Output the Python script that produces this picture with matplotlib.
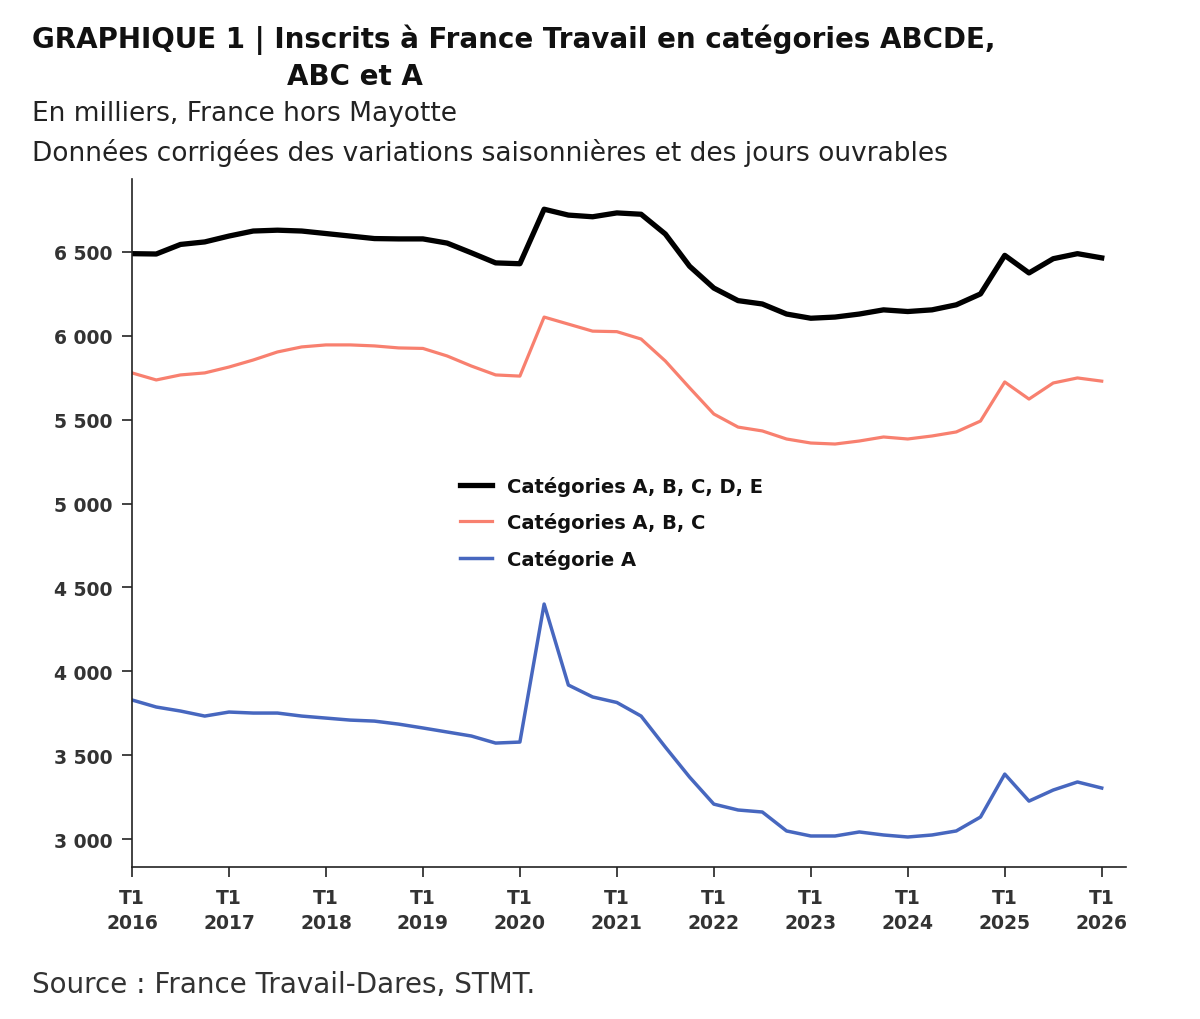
import matplotlib
matplotlib.use("Agg")
import matplotlib.pyplot as plt
from matplotlib.ticker import FuncFormatter, FixedLocator

# Quarters T1 2016 .. T1 2026
quarters = [f"T{q} {y}" for y in range(2016, 2027) for q in range(1, 5)][:41]

abcde = [6490, 6488, 6545, 6560, 6595, 6625, 6630, 6625, 6610, 6595,
         6580, 6578, 6578, 6553, 6495, 6435, 6430, 6755, 6720, 6710,
         6733, 6725, 6607, 6415, 6285, 6210, 6190, 6130, 6105, 6112,
         6130, 6155, 6145, 6155, 6185, 6250, 6480, 6375, 6460, 6490,
         6465]
abc = [5779, 5737, 5767, 5779, 5814, 5856, 5904, 5934, 5946, 5946,
       5940, 5928, 5925, 5880, 5820, 5767, 5760, 6112, 6070, 6028,
       6025, 5981, 5850, 5690, 5534, 5456, 5433, 5385, 5361, 5355,
       5373, 5397, 5385, 5403, 5427, 5492, 5725, 5623, 5719, 5749,
       5730]
cat_a = [3829, 3787, 3763, 3733, 3757, 3751, 3751, 3733, 3721, 3709,
         3703, 3685, 3662, 3638, 3614, 3572, 3578, 4401, 3918, 3847,
         3814, 3733, 3548, 3369, 3208, 3173, 3161, 3048, 3018, 3018,
         3042, 3024, 3012, 3024, 3048, 3131, 3387, 3226, 3292, 3340,
         3304]

series_labels = ["Catégories A, B, C, D, E", "Catégories A, B, C", "Catégorie A"]
xtick_labels = [f"T1\n{y}" for y in range(2016, 2027)]
yticks = [3000, 3500, 4000, 4500, 5000, 5500, 6000, 6500]

FONT = "DejaVu Sans"

fig = plt.figure(figsize=(12, 10.2), dpi=100)
ax = fig.add_axes([0.11, 0.149, 0.8283, 0.6745])

x = list(range(len(quarters)))
ax.plot(x, abcde, color="#000000", lw=3.8, label=series_labels[0], solid_joinstyle="round")
ax.plot(x, abc, color="#f8806f", lw=2.3, label=series_labels[1], solid_joinstyle="round")
ax.plot(x, cat_a, color="#4767bf", lw=2.5, label=series_labels[2], solid_joinstyle="round")

ax.set_xlim(0, 41)
ax.set_ylim(2833, 6935)
ax.xaxis.set_major_locator(FixedLocator(list(range(0, 41, 4))))
ax.set_xticklabels(xtick_labels)
ax.yaxis.set_major_locator(FixedLocator(yticks))
ax.yaxis.set_major_formatter(FuncFormatter(lambda v, p: f"{int(v):,}".replace(",", " ")))

for s in ["top", "right"]:
    ax.spines[s].set_visible(False)
for s in ["left", "bottom"]:
    ax.spines[s].set_color("#222222")
    ax.spines[s].set_linewidth(1.2)

ax.tick_params(axis="both", direction="out", length=7, width=1.2, color="#222222",
               labelcolor="#333333")
ax.tick_params(axis="y", pad=7)
ax.tick_params(axis="x", pad=8)
for lbl in ax.get_xticklabels() + ax.get_yticklabels():
    lbl.set_fontfamily(FONT)
    lbl.set_fontweight("bold")
    lbl.set_fontsize(13.5)
for lbl in ax.get_xticklabels():
    lbl.set_linespacing(1.4)

leg = ax.legend(loc="upper left", bbox_to_anchor=(0.33, 0.569), frameon=False,
                prop={"family": FONT, "weight": "bold", "size": 14},
                handlelength=1.65, handletextpad=0.75, labelspacing=0.86,
                borderpad=0, borderaxespad=0)
for t in leg.get_texts():
    t.set_color("#111111")

fig.text(32/1200, 1 - 40/1020, "GRAPHIQUE 1 | Inscrits à France Travail en catégories ABCDE,",
         fontfamily=FONT, fontsize=20, fontweight="bold", va="center", ha="left",
         color="#111111")
fig.text(287/1200, 1 - 77/1020, "ABC et A",
         fontfamily=FONT, fontsize=20, fontweight="bold", va="center", ha="left",
         color="#111111")
fig.text(32/1200, 1 - 114/1020, "En milliers, France hors Mayotte",
         fontfamily=FONT, fontsize=19, va="center", ha="left", color="#222222")
fig.text(32/1200, 1 - 153/1020, "Données corrigées des variations saisonnières et des jours ouvrables",
         fontfamily=FONT, fontsize=19, va="center", ha="left", color="#222222")
fig.text(32/1200, 1 - 985/1020, "Source : France Travail-Dares, STMT.",
         fontfamily=FONT, fontsize=20, va="center", ha="left", color="#333333")

fig.savefig("out.png", dpi=100, facecolor="white")
